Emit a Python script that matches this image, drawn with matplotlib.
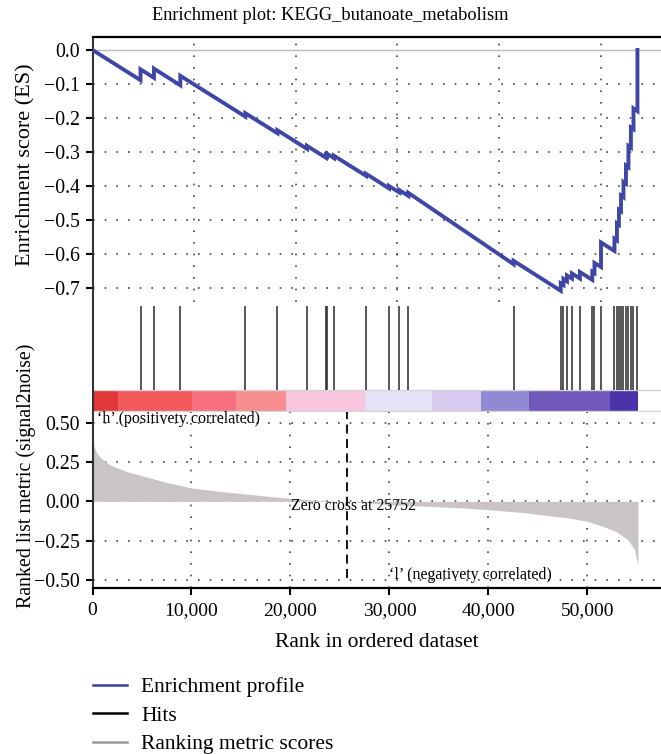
import numpy as np
import matplotlib
matplotlib.use('Agg')
from matplotlib import pyplot as plt
from matplotlib.lines import Line2D
from matplotlib.ticker import FuncFormatter

plt.rcParams['font.family'] = ['Liberation Serif', 'DejaVu Serif']

title = 'Enrichment plot: KEGG_butanoate_metabolism'
zero_cross = 25752
x_max = 57430
es_grid_step = 10270

# gene set hits (rank in the ordered list) and running ES just before / after each hit
hit_ranks = [4850, 6210, 8870, 15440, 18680, 21670, 23590, 23690, 24390, 27630,
             29950, 30990, 31900, 42540, 47300, 47580, 47930, 48430, 49240, 50490,
             50710, 51370, 52730, 52980, 53180, 53390, 53640, 53890, 54140, 54390,
             54650, 55050]
es_before = [-0.089, -0.082, -0.104, -0.196, -0.245, -0.291, -0.317, -0.312, -0.318, -0.370,
             -0.407, -0.419, -0.429, -0.630, -0.708, -0.691, -0.680, -0.672, -0.672, -0.676,
             -0.656, -0.638, -0.591, -0.560, -0.514, -0.474, -0.433, -0.393, -0.345, -0.287,
             -0.233, -0.180]
es_after = [-0.057, -0.055, -0.076, -0.186, -0.236, -0.282, -0.310, -0.305, -0.311, -0.364,
            -0.400, -0.412, -0.420, -0.620, -0.686, -0.673, -0.663, -0.657, -0.653, -0.652,
            -0.626, -0.566, -0.555, -0.510, -0.470, -0.428, -0.388, -0.340, -0.282, -0.228,
            -0.172, 0.0]

# ranked list metric (signal2noise)
metric_ranks = [0, 150, 400, 860, 1730, 3430, 5560, 7690, 10030, 12780, 16200, 19600,
                22170, 25752, 30000, 33240, 37500, 40000, 43900, 46000, 48150, 50000,
                51550, 52830, 54100, 54750, 55050, 55100]
metric_vals = [0.40, 0.35, 0.31, 0.275, 0.233, 0.19, 0.153, 0.117, 0.085, 0.064, 0.042, 0.021,
               0.008, 0.0, -0.021, -0.03, -0.042, -0.053, -0.074, -0.091, -0.106, -0.127,
               -0.159, -0.19, -0.244, -0.307, -0.392, -0.40]

# heat strip under the hits
bar_edges = [0, 2580, 10050, 14490, 19550, 27520, 34290, 39240, 44090, 52280, 55100]
bar_colors = ['#e2383a', '#f25a5c', '#f7707f', '#f98e8f', '#f8c5df', '#e6e2f6',
              '#d8caee', '#9189d4', '#7158bb', '#4b34a9']

es_ticks = [0.0, -0.1, -0.2, -0.3, -0.4, -0.5, -0.6, -0.7]
metric_ticks = [0.5, 0.25, 0.0, -0.25, -0.5]
rank_ticks = [0, 10000, 20000, 30000, 40000, 50000]

legend_labels = ['Enrichment profile', 'Hits', 'Ranking metric scores']
legend_colors = ['#3a3f9e', '#000000', '#999999']

W, H = 661, 754
fig = plt.figure(figsize=(W / 100, H / 100), dpi=100)

left = 92.5 / W
width = 1 - left


def axes_at(top_px, bottom_px):
    return fig.add_axes([left, 1 - bottom_px / H, width, (bottom_px - top_px) / H])


ax_es = axes_at(37, 302)
ax_hits = axes_at(302, 412)
ax_rank = axes_at(412, 588)

dot = (0, (1, 6))
spine_c = '#333333'


def minus(fmt):
    return FuncFormatter(lambda v, p: format(v, fmt).replace('-', '\u2212'))


# --- enrichment score panel ---
es_x = [0]
es_y = [0.0]
for r, b, a in zip(hit_ranks, es_before, es_after):
    es_x += [r, r]
    es_y += [b, a]

ax_es.axhline(0, color='#bbbbbb', lw=1.0, zorder=1)
for y in es_ticks[1:]:
    ax_es.axhline(y, color='#444444', lw=1.2, ls=dot, zorder=1)
for x in np.arange(es_grid_step, x_max, es_grid_step):
    ax_es.axvline(x, color='#444444', lw=1.2, ls=dot, zorder=1)
ax_es.plot(es_x, es_y, color='#3f47a6', lw=2.8, solid_joinstyle='miter', zorder=3)
ax_es.set_xlim(0, x_max)
ax_es.set_ylim(-0.741, 0.038)
ax_es.set_yticks(es_ticks)
ax_es.yaxis.set_major_formatter(minus('.1f'))
ax_es.set_xticks([])
ax_es.set_ylabel('Enrichment score (ES)', fontsize=16)
ax_es.yaxis.set_label_coords(-0.1, 0.52)
for s in ['right', 'bottom']:
    ax_es.spines[s].set_visible(False)
ax_es.spines['top'].set_linewidth(1.6)
ax_es.spines['left'].set_color(spine_c)
ax_es.spines['left'].set_linewidth(1.5)

# --- hits + heat strip ---
strip_top = 0.2
for x0, x1, c in zip(bar_edges[:-1], bar_edges[1:], bar_colors):
    ax_hits.fill_between([x0, x1], 0, strip_top, color=c, lw=0)
ax_hits.axhline(strip_top, color='#d4d4d4', lw=1.0)
ax_hits.axhline(0.005, color='#d4d4d4', lw=1.0)
ax_hits.vlines(hit_ranks, strip_top, 0.964, color='#2a2a2a', lw=1.1)
ax_hits.set_xlim(0, x_max)
ax_hits.set_ylim(0, 1)
ax_hits.set_xticks([])
ax_hits.set_yticks([])
for s in ['right', 'bottom', 'top']:
    ax_hits.spines[s].set_visible(False)
ax_hits.spines['left'].set_color(spine_c)
ax_hits.spines['left'].set_linewidth(1.5)

# --- ranked list metric panel ---
for y in metric_ticks:
    ax_rank.axhline(y, color='#444444', lw=1.2, ls=dot, zorder=1)
for x in rank_ticks[1:]:
    ax_rank.axvline(x, color='#444444', lw=1.2, ls=dot, zorder=1)
ax_rank.fill_between(metric_ranks, 0, metric_vals, color='#c9c5c5', lw=0, zorder=2)
ax_rank.vlines(zero_cross, -0.49, 0.568, color='black', lw=1.3, linestyles=(0, (5, 3)), zorder=3)
ax_rank.text(20100, -0.027, f'Zero cross at {zero_cross}', fontsize=11.3, va='center', zorder=4)
ax_rank.text(500, 0.525, '\u2018h\u2019 (positivety correlated)', fontsize=11.5, va='center', zorder=4)
ax_rank.text(30000, -0.466, '\u2018l\u2019 (negativety correlated)', fontsize=11.5, va='center', zorder=4)
ax_rank.set_xlim(0, x_max)
ax_rank.set_ylim(-0.551, 0.568)
ax_rank.set_yticks(metric_ticks)
ax_rank.yaxis.set_major_formatter(minus('.2f'))
ax_rank.set_xticks(rank_ticks)
ax_rank.xaxis.set_major_formatter(FuncFormatter(lambda v, p: f'{int(v):,}'))
ax_rank.set_xlabel('Rank in ordered dataset', fontsize=15.5, labelpad=10)
ax_rank.set_ylabel('Ranked list metric (signal2noise)', fontsize=14.3)
ax_rank.yaxis.set_label_coords(-0.1, 0.64)
for s in ['right', 'top']:
    ax_rank.spines[s].set_visible(False)
ax_rank.spines['bottom'].set_linewidth(1.6)
ax_rank.spines['left'].set_color(spine_c)
ax_rank.spines['left'].set_linewidth(1.5)

for ax in (ax_es, ax_rank):
    ax.tick_params(axis='both', direction='out', length=5, width=1.5, pad=4)
    ax.tick_params(axis='y', labelsize=14.3)
ax_rank.tick_params(axis='x', labelsize=14, pad=5)

fig.text(0.5, 1 - 15 / H, title, ha='center', va='center', fontsize=13.2)

handles = [Line2D([], [], color=c, lw=1.8) for c in legend_colors]
fig.legend(handles, legend_labels, loc='upper left', bbox_to_anchor=(93 / W, 1 - 677 / H),
           frameon=False, fontsize=15.5, handlelength=1.6, handletextpad=0.65,
           labelspacing=0.4, borderaxespad=0, borderpad=0)

fig.savefig('out.png', dpi=100)
